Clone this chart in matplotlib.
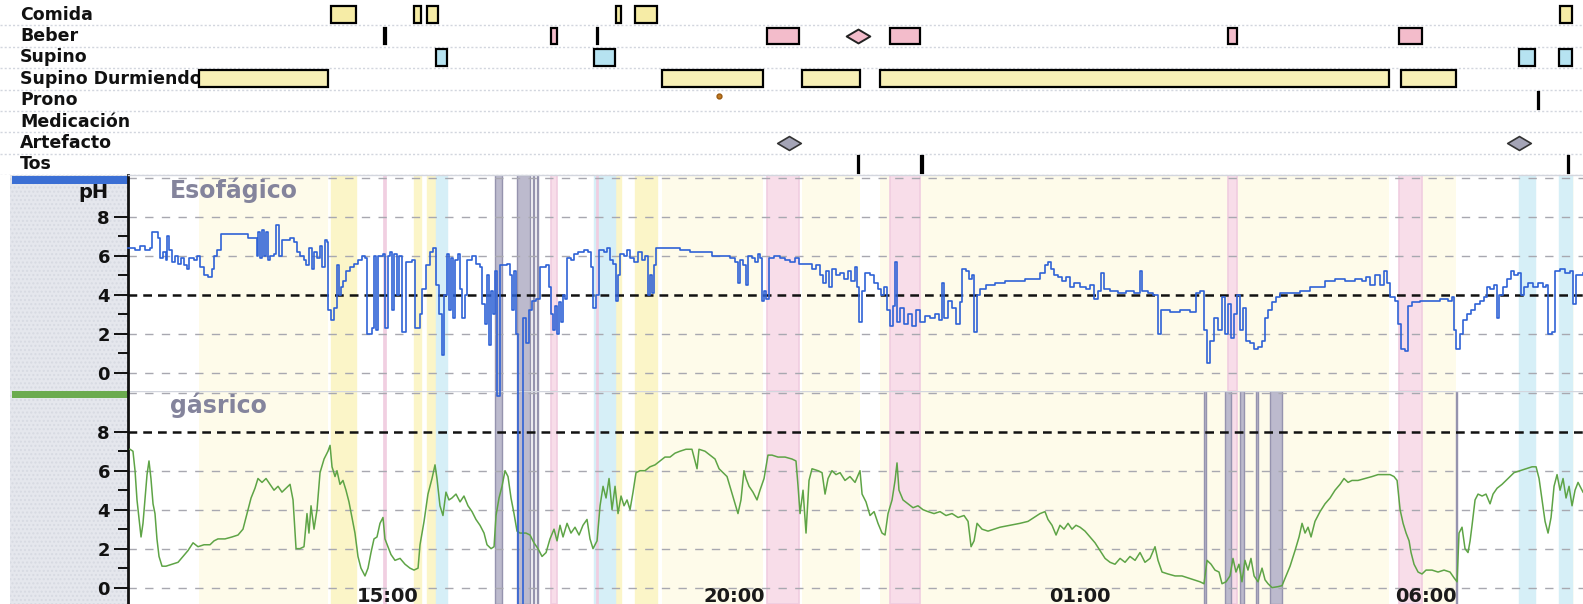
import matplotlib
matplotlib.use("Agg")
import matplotlib.pyplot as plt
from matplotlib.patches import Rectangle
from matplotlib.path import Path

plt.rcParams['font.family'] = ['DejaVu Sans']
plt.rcParams['font.weight'] = 'bold'

# ---------------------------------------------------------------- data
row_labels = ["Comida", "Beber", "Supino", "Supino Durmiendo",
              "Prono", "Medicación", "Artefacto", "Tos"]

comida_start = ["14:11", "15:23", "15:34", "18:18", "18:34", "07:56"]
comida_end   = ["14:32", "15:29", "15:43", "18:22", "18:53", "08:07"]

beber_start = ["14:57", "17:21", "18:01", "20:29", "22:15", "03:08", "05:37"]
beber_end   = ["14:58", "17:27", "18:02", "20:56", "22:41", "03:16", "05:57"]
beber_marks = ["21:48"]

supino_start = ["15:42", "17:59", "07:21", "07:55"]
supino_end   = ["15:51", "18:17", "07:35", "08:07"]

dormido_start = ["12:16", "18:58", "20:59", "22:07", "05:38"]
dormido_end   = ["14:08", "20:25", "21:49", "05:28", "06:26"]

prono_start = ["07:37"]
prono_end   = ["07:38"]
prono_marks = ["19:47"]

artefacto_marks = ["20:48", "07:21"]

tos_start = ["21:48", "22:42", "08:03"]
tos_end   = ["21:48", "22:44", "08:04"]

# periods excluded from analysis
excl_both_start = ["16:33", "16:52", "17:06", "17:09"]
excl_both_end   = ["16:39", "17:03", "17:07", "17:10"]
excl_gast_start = ["02:48", "03:06", "03:19", "03:33", "03:45", "06:26"]
excl_gast_end   = ["02:49", "03:11", "03:22", "03:34", "03:55", "06:27"]

time_ticks = ["15:00", "20:00", "01:00", "06:00"]

# pH traces: minutes after 11:00, pH
esof_min = [
    14.6, 20.7, 25.0, 29.3, 33.7, 35.4, 40.6, 42.3, 44.9, 47.5, 48.4, 50.1, 52.8, 55.4, 58.0, 60.6,
    63.2, 65.8, 67.5, 71.8, 74.4, 77.0, 80.5, 84.0, 87.4, 89.2, 91.8, 95.2, 116.9, 118.7, 123.9, 126.5,
    127.3, 129.1, 130.8, 132.5, 134.3, 136.0, 137.7, 141.2, 142.9, 145.5, 148.1, 155.1, 158.5, 161.1,
    163.7, 167.2, 168.9, 171.5, 174.1, 175.9, 178.5, 181.1, 182.8, 185.4, 187.2, 188.0, 190.6, 193.2,
    195.8, 197.6, 199.3, 201.0, 203.6, 207.1, 210.6, 214.0, 217.5, 220.1, 221.8, 226.2, 227.9, 229.6,
    231.4, 235.7, 237.4, 240.0, 241.8, 243.5, 245.2, 247.8, 249.6, 252.2, 255.7, 260.9, 263.5, 267.8,
    269.5, 273.0, 276.5, 279.1, 281.7, 284.3, 286.9, 288.6, 291.2, 292.9, 294.7, 296.4, 298.1, 300.7,
    302.5, 304.2, 306.8, 308.5, 312.9, 316.3, 319.8, 321.6, 324.2, 325.9, 327.6, 329.4, 331.1, 332.8,
    334.6, 337.2, 343.2, 345.8, 347.6, 349.3, 351.0, 352.8, 357.1, 359.7, 362.3, 364.9, 368.4, 371.8,
    377.1, 379.7, 381.4, 383.1, 384.9, 386.6, 388.3, 390.1, 391.8, 393.5, 395.3, 398.7, 401.3, 404.8,
    410.0, 413.5, 416.1, 417.8, 420.4, 423.0, 427.3, 429.9, 432.5, 435.1, 437.7, 439.5, 441.2, 444.7,
    447.3, 449.9, 453.4, 456.8, 460.3, 462.9, 465.5, 467.2, 469.0, 470.7, 472.4, 475.9, 493.2, 501.9,
    510.6, 521.0, 527.9, 536.6, 540.9, 543.5, 545.3, 547.9, 550.5, 552.2, 555.7, 558.3, 560.9, 562.6,
    564.3, 566.1, 567.8, 570.4, 574.8, 580.0, 584.3, 588.6, 593.0, 596.4, 599.0, 604.2, 607.7, 611.2,
    614.6, 617.2, 619.8, 622.4, 625.0, 628.5, 632.0, 635.4, 638.9, 641.5, 645.0, 646.7, 648.5, 651.1,
    653.7, 658.0, 661.5, 664.9, 667.5, 670.1, 672.7, 675.3, 677.9, 679.7, 681.4, 684.0, 687.5, 690.9,
    694.4, 697.9, 701.3, 705.7, 710.0, 714.3, 717.8, 720.4, 722.2, 725.6, 729.1, 732.6, 736.0, 737.8,
    741.2, 743.8, 746.4, 748.2, 750.8, 753.4, 758.6, 766.4, 775.1, 783.7, 792.4, 801.1, 805.4, 809.7,
    812.3, 814.9, 817.5, 821.0, 824.5, 827.9, 831.4, 834.9, 840.1, 845.3, 848.8, 852.2, 855.7, 858.3,
    860.9, 866.1, 873.0, 880.0, 886.9, 892.1, 893.8, 899.0, 903.4, 907.7, 910.3, 918.1, 926.8, 935.5,
    940.7, 944.1, 947.6, 950.2, 952.8, 956.3, 959.7, 963.2, 965.8, 968.4, 971.0, 973.6, 976.2, 978.8,
    981.4, 984.0, 987.5, 991.0, 994.4, 997.9, 1000.5, 1003.1, 1006.6, 1010.0, 1013.5, 1022.2, 1030.8,
    1039.5, 1048.2, 1052.5, 1061.2, 1069.9, 1078.5, 1084.6, 1088.1, 1091.5, 1095.9, 1100.2, 1103.7,
    1106.3, 1108.9, 1113.2, 1115.8, 1118.4, 1121.9, 1124.5, 1128.0, 1134.9, 1143.6, 1152.2, 1159.2,
    1162.6, 1164.4, 1166.1, 1169.6, 1172.2, 1175.6, 1179.1, 1182.6, 1186.9, 1190.4, 1193.0, 1195.6,
    1199.1, 1201.7, 1203.4, 1206.9, 1210.3, 1213.8, 1216.4, 1219.9, 1222.5, 1225.1, 1228.5, 1232.9,
    1237.2, 1241.5, 1244.1, 1245.9, 1249.3, 1252.0, 1256.3, 1260.6, 1265.0, 1267.6, 1270.2, 1276.2]
esof_ph = [
    6.4, 6.3, 6.5, 6.3, 6.4, 7.2, 6.9, 5.9, 6.2, 5.8, 7.0, 6.3, 5.7, 6.0, 5.6, 5.9,
    5.5, 5.3, 5.9, 5.8, 6.0, 5.4, 5.0, 4.9, 5.3, 6.0, 6.3, 7.1, 7.1, 6.9, 6.9, 6.0,
    7.2, 5.9, 7.3, 6.0, 7.2, 5.8, 6.0, 6.1, 7.6, 6.0, 6.8, 6.9, 6.7, 6.2,
    6.0, 5.8, 5.5, 6.4, 5.3, 6.2, 5.9, 6.5, 5.4, 6.8, 6.7, 3.2, 2.7, 3.3,
    5.5, 4.0, 4.4, 4.7, 5.2, 5.4, 5.6, 5.8, 6.0, 5.9, 2.0, 2.3, 6.0, 2.2,
    6.0, 6.1, 2.3, 6.0, 6.2, 3.2, 6.1, 4.0, 6.0, 2.1, 5.7, 5.8, 2.3, 3.0,
    4.3, 5.5, 6.2, 6.4, 4.5, 3.0, 0.9, 4.0, 6.1, 3.2, 5.9, 2.8, 5.8, 6.1,
    4.3, 2.8, 4.0, 5.8, 6.0, 5.6, 5.4, 3.5, 2.5, 5.0, 1.4, 4.2, 3.0, 5.2,
    -1.2, 5.5, 5.6, 5.0, 3.2, 5.2, 2.0, -12.0, 2.8, 1.5, 3.2, 3.7, 3.8, 5.4,
    5.5, 4.4, 3.0, 2.2, 3.4, 2.0, 3.6, 2.6, 4.0, 3.8, 5.9, 5.8, 6.1, 6.2,
    6.3, 6.2, 5.4, 3.3, 4.0, 6.3, 6.2, 6.4, 5.8, 5.6, 3.7, 5.0, 6.1, 6.0,
    6.3, 5.9, 5.7, 6.2, 5.8, 6.0, 4.0, 5.0, 4.1, 5.5, 6.4, 6.4, 6.3, 6.2,
    6.2, 6.0, 6.0, 5.9, 5.7, 4.6, 5.8, 5.5, 4.5, 6.0, 5.9, 5.7, 6.1, 5.9,
    3.7, 4.2, 3.8, 5.9, 6.0, 5.9, 5.8, 5.7, 5.9, 5.6, 5.6, 5.6, 5.3, 5.5,
    5.0, 4.6, 5.2, 4.4, 5.3, 5.0, 5.1, 4.8, 5.2, 4.7, 5.4, 4.4, 2.6, 4.2,
    5.1, 5.0, 4.6, 4.3, 4.0, 4.4, 3.2, 2.4, 3.4, 5.7, 2.6, 3.3, 2.5, 3.0,
    2.4, 3.2, 2.6, 2.9, 2.8, 3.0, 2.7, 4.6, 2.8, 3.7, 3.3, 2.5, 3.6, 5.3,
    5.2, 4.8, 5.0, 2.1, 4.0, 4.3, 4.5, 4.6, 4.7, 4.7, 4.8, 4.8, 5.1, 5.5,
    5.7, 5.3, 5.0, 4.9, 4.7, 4.9, 4.4, 4.6, 4.4, 4.3, 4.5, 3.8, 4.2, 5.1,
    4.3, 4.2, 4.1, 4.2, 4.1, 5.2, 4.2, 4.1, 4.0, 2.0, 3.2, 3.1, 3.2, 3.1,
    4.1, 4.2, 2.2, 0.5, 1.6, 2.8, 2.2, 3.9, 2.0, 3.5, 1.8, 3.0, 4.0, 2.2,
    3.3, 1.6, 1.5, 1.2, 1.3, 1.6, 2.8, 3.2, 3.6, 3.9, 4.1, 4.1, 4.2,
    4.4, 4.4, 4.7, 4.8, 4.7, 4.8, 4.7, 4.9, 4.5, 5.0, 4.5, 5.2,
    4.6, 3.9, 3.7, 2.5, 1.2, 1.1, 3.4, 3.6, 3.7, 3.7, 3.8, 3.7,
    3.9, 2.2, 1.2, 2.0, 2.7, 3.0, 3.2, 3.5, 3.7, 3.9, 4.4, 4.3,
    4.5, 2.8, 4.0, 4.4, 4.8, 5.2, 5.0, 5.1, 4.0, 4.4, 4.6, 4.4,
    4.6, 4.4, 4.5, 2.0, 2.1, 5.2, 5.3, 5.1, 5.2, 3.5, 5.0, 5.1]

gast_min = [
    16.3, 18.9, 20.7, 22.4, 24.1, 25.9, 27.6, 29.3, 31.1, 32.8, 34.5, 36.3, 38.0, 39.7, 41.5, 44.1,
    47.5, 52.8, 58.0, 62.3, 66.6, 71.0, 75.3, 80.5, 85.7, 89.2, 92.6, 98.7, 104.8, 110.0, 114.3, 117.8,
    121.3, 124.7, 127.3, 130.8, 134.3, 137.7, 141.2, 144.7, 148.1, 151.6, 155.1, 157.7, 160.3, 163.7,
    167.2, 169.8, 171.5, 173.3, 175.9, 178.5, 181.1, 184.6, 188.0, 189.8, 191.5, 194.1, 195.8, 198.4,
    201.0, 203.6, 206.2, 208.8, 211.4, 214.0, 216.6, 220.1, 222.7, 225.3, 227.9, 230.5, 233.1, 235.7,
    237.4, 240.0, 242.6, 246.1, 250.5, 254.8, 259.1, 262.6, 266.1, 267.8, 271.3, 274.7, 278.2, 280.8,
    282.5, 285.1, 287.7, 290.3, 292.9, 295.5, 299.0, 302.5, 305.9, 309.4, 312.9, 316.3, 319.8, 323.3,
    325.9, 329.4, 332.0, 333.7, 336.3, 338.9, 341.5, 344.1, 346.7, 349.3, 351.9, 354.5, 359.7, 363.2,
    366.6, 370.1, 373.6, 377.1, 380.5, 384.0, 386.6, 389.2, 391.8, 395.3, 398.7, 402.2, 405.7, 409.1,
    412.6, 415.2, 417.8, 421.3, 423.9, 426.5, 429.1, 431.7, 434.3, 436.9, 439.5, 442.1, 444.7, 447.3,
    449.9, 452.5, 455.1, 458.6, 462.9, 467.2, 471.6, 475.9, 480.2, 484.6, 488.9, 493.2, 498.4, 503.6,
    508.0, 509.7, 514.9, 519.3, 523.6, 527.1, 530.5, 534.0, 537.5, 540.9, 543.5, 546.1, 548.7, 550.5,
    553.1, 556.5, 560.0, 562.6, 566.1, 569.5, 573.0, 578.2, 584.3, 590.3, 593.8, 595.6, 597.3, 599.9,
    602.5, 605.1, 607.7, 612.9, 616.4, 619.0, 621.6, 625.0, 628.5, 632.0, 636.3, 640.6, 645.0, 649.3,
    651.1, 654.5, 658.0, 661.5, 664.9, 668.4, 671.0, 673.6, 677.1, 679.7, 681.4, 683.1, 686.6, 690.9,
    695.3, 699.6, 703.9, 708.3, 713.5, 718.7, 723.9, 729.1, 734.3, 739.5, 743.0, 745.6, 748.2, 750.8,
    755.1, 760.3, 765.5, 770.7, 779.4, 788.1, 795.0, 800.2, 805.4, 809.7, 812.3, 815.8, 819.3, 822.7,
    826.2, 829.7, 833.1, 836.6, 840.1, 844.4, 848.8, 853.1, 857.4, 861.8, 866.1, 870.4, 874.8, 879.1,
    883.4, 887.8, 892.1, 896.4, 900.8, 905.1, 907.7, 911.2, 916.4, 922.5, 928.5, 933.7, 938.9, 944.1,
    947.6, 950.2, 953.7, 957.1, 960.6, 963.2, 966.7, 970.1, 972.7, 975.3, 977.9, 980.5, 983.1, 985.7,
    988.3, 991.0, 994.4, 997.9, 1000.5, 1003.1, 1006.6, 1011.7, 1015.2, 1018.7, 1022.2, 1026.5, 1030.0,
    1032.6, 1035.2, 1037.8, 1040.4, 1043.8, 1048.2, 1052.5, 1056.9, 1061.2, 1065.5, 1069.0, 1072.5,
    1075.9, 1081.1, 1087.2, 1093.3, 1098.5, 1103.7, 1108.9, 1112.3, 1115.0, 1117.6, 1120.2, 1122.8,
    1125.4, 1127.1, 1129.7, 1133.2, 1136.6, 1140.1, 1145.3, 1150.5, 1155.7, 1160.9, 1164.4, 1167.0,
    1168.7, 1171.3, 1173.9, 1176.5, 1178.3, 1180.0, 1182.6, 1185.2, 1188.7, 1192.1, 1195.6, 1198.2,
    1201.7, 1206.0, 1211.2, 1216.4, 1221.6, 1226.8, 1232.0, 1235.5, 1238.1, 1240.7, 1243.3, 1245.9,
    1248.5, 1251.1, 1253.7, 1256.3, 1258.9, 1261.5, 1264.1, 1266.7, 1269.3, 1271.9, 1276.2]
gast_ph = [
    7.1, 7.0, 6.0, 4.5, 3.6, 2.6, 3.3, 4.5, 5.8, 6.5, 5.6, 4.3, 3.8, 2.5, 1.6, 1.1,
    1.1, 1.2, 1.3, 1.6, 1.9, 2.3, 2.1, 2.2, 2.2, 2.4, 2.5, 2.5, 2.6, 2.7, 3.0, 3.8,
    4.6, 5.1, 5.6, 5.4, 5.6, 5.3, 5.0, 5.2, 4.9, 5.1, 5.3, 4.5, 2.0, 2.0,
    2.1, 3.8, 2.8, 4.2, 3.0, 4.0, 5.9, 6.6, 7.0, 7.3, 6.2, 5.7, 6.0, 5.3,
    5.5, 5.0, 4.4, 3.6, 2.8, 1.6, 1.0, 0.6, 1.0, 1.8, 2.5, 2.6, 3.3, 3.6,
    2.5, 2.1, 1.7, 1.4, 1.5, 1.2, 1.0, 0.9, 1.0, 2.2, 3.4, 4.8, 5.6, 6.3,
    5.6, 4.2, 3.7, 4.9, 4.5, 4.6, 4.8, 4.4, 4.7, 4.2, 3.9, 3.5, 3.2, 2.8,
    2.2, 2.0, 2.1, 3.7, 4.6, 5.2, 6.0, 5.7, 4.6, 3.8, 2.9, 2.8, 2.8, 2.7,
    2.3, 2.0, 1.6, 1.8, 2.5, 3.0, 2.4, 3.2, 2.6, 3.3, 2.8, 3.1, 2.7, 3.2,
    3.5, 2.5, 2.0, 2.4, 4.2, 5.2, 4.6, 5.6, 4.0, 5.2, 3.8, 4.7, 4.2, 4.5,
    4.0, 4.9, 5.9, 6.0, 6.0, 6.2, 6.3, 6.5, 6.7, 6.7, 6.9, 7.0, 7.1, 7.1,
    6.1, 7.1, 7.0, 6.8, 6.6, 6.1, 5.9, 5.7, 5.0, 4.3, 3.8, 4.5, 6.0, 5.6,
    5.2, 4.9, 4.5, 5.0, 5.6, 6.8, 6.8, 6.7, 6.7, 6.6, 6.5, 5.2, 3.8, 5.0,
    2.8, 5.5, 6.1, 6.0, 5.9, 4.8, 5.6, 6.0, 5.8, 5.9, 5.5, 5.7, 5.4, 6.0,
    4.8, 4.4, 3.7, 3.9, 3.3, 2.8, 2.7, 3.8, 4.5, 5.5, 6.4, 5.0, 4.5, 4.3,
    4.1, 4.2, 4.0, 3.9, 3.8, 3.9, 3.7, 3.8, 3.6, 3.7, 3.4, 2.1, 2.4, 3.3,
    3.0, 2.9, 3.0, 3.1, 3.2, 3.3, 3.4, 3.6, 3.8, 3.9, 3.5, 3.2, 2.7, 3.2,
    3.0, 3.3, 3.0, 3.2, 3.1, 2.9, 2.6, 2.3, 1.9, 1.5, 1.3, 1.2, 1.5, 1.3,
    1.6, 1.4, 1.8, 1.3, 1.5, 2.1, 1.4, 0.8, 0.7, 0.6, 0.6, 0.5, 0.4, 0.3,
    0.2, 1.4, 1.2, 0.9, 0.8, 0.2, 0.3, 0.6, 1.5, 0.8, 1.2, 0.3, 1.4, 0.9,
    1.5, 0.6, 0.3, 1.0, 0.4, 0.2, 0.0, 0.05, 0.1, 0.6, 1.1, 1.9, 2.6,
    3.3, 2.8, 3.1, 2.6, 3.4, 3.9, 4.3, 4.6, 5.0, 5.3, 5.6, 5.4,
    5.5, 5.5, 5.6, 5.7, 5.8, 5.8, 5.8, 5.7, 5.5, 4.0, 3.3, 2.8,
    2.4, 1.8, 1.2, 0.8, 0.7, 0.9, 0.9, 0.8, 0.9, 0.8, 0.5, 0.3,
    2.8, 3.1, 2.0, 1.8, 2.4, 3.2, 4.5, 4.8, 4.7, 4.8, 4.3, 4.8,
    5.1, 5.3, 5.6, 5.9, 6.0, 6.1, 6.2, 6.2, 5.6, 4.5, 3.4, 2.8,
    3.6, 5.2, 5.8, 5.0, 5.6, 4.6, 5.2, 4.2, 5.0, 5.4, 4.9]


def clock(s):
    """Minutes after 11:00 of the first day (times before 11:00 are next day)."""
    h, m = map(int, s.split(":"))
    if h < 11:
        h += 24
    return (h - 11) * 60 + m


# ---------------------------------------------------------------- layout
W, H = 1583, 604
fig = plt.figure(figsize=(W / 100, H / 100), dpi=100)
fig.patch.set_facecolor("white")


def box(x0, y0, x1, y1):
    """Pixel box measured from the top-left corner -> figure fraction rect."""
    return [x0 / W, 1 - y1 / H, (x1 - x0) / W, (y1 - y0) / H]


T_START, T_END = 14.6, 1276.2          # visible recording window (min after 11:00)
PX_PER_MIN = (W - 128) / (T_END - T_START)

ax_ev = fig.add_axes(box(0, 4, W, 175))
ax1 = fig.add_axes(box(128, 175, W, 391))
ax2 = fig.add_axes(box(128, 391, W, 604))
ax1.set_zorder(3)
ax2.set_zorder(2)
ax_ev.set_zorder(1)

ax_ev.set_xlim(T_START - 128 / PX_PER_MIN, T_END)
ax_ev.set_ylim(len(row_labels), 0)
ax_ev.axis("off")

# colours
C_COMIDA, C_BEBER, C_SUPINO, C_DORM = "#f6eca6", "#f3bccb", "#b6e3f1", "#f8f0b6"
B_COMIDA, B_BEBER, B_SUPINO, B_DORM = "#fbf5c8", "#f8dde9", "#d6eff7", "#fefbea"
C_EXCL, C_EXCL_EDGE = "#bcbacd", "#9593ae"

# ---------------------------------------------------------------- event rows
for i, lab in enumerate(row_labels):
    ax_ev.text(0.0126, i + 0.5, lab, transform=ax_ev.get_yaxis_transform(),
               ha="left", va="center", fontsize=12.5, color="#111111", zorder=2)
    ax_ev.axhline(i + 1, color="#d2d6de", lw=1.0, ls=(0, (1.5, 1.5)), zorder=1)


def draw_row(row, starts, ends, face):
    for s, e in zip(starts, ends):
        a, b = clock(s), clock(e)
        ax_ev.add_patch(Rectangle((a, row + 0.5 - 0.39), max(b - a, 0.3), 0.78,
                                  facecolor=face, edgecolor="black", lw=1.6, zorder=3))


draw_row(0, comida_start, comida_end, C_COMIDA)
draw_row(1, beber_start, beber_end, C_BEBER)
draw_row(2, supino_start, supino_end, C_SUPINO)
draw_row(3, dormido_start, dormido_end, C_DORM)
draw_row(4, prono_start, prono_end, "black")
draw_row(7, tos_start, tos_end, "black")

diamond = Path([(-1.7, 0), (0, 1), (1.7, 0), (0, -1), (-1.7, 0)],
               [Path.MOVETO, Path.LINETO, Path.LINETO, Path.LINETO, Path.CLOSEPOLY])
ax_ev.plot([clock(t) for t in beber_marks], [1.5] * len(beber_marks), ls="none",
           marker=diamond, ms=17, mfc=C_BEBER, mec="#222222", mew=1.4, zorder=4)
ax_ev.plot([clock(t) for t in artefacto_marks], [6.5] * len(artefacto_marks), ls="none",
           marker=diamond, ms=17, mfc="#a4a4b6", mec="#333333", mew=1.2, zorder=4)
ax_ev.plot([clock(t) for t in prono_marks], [4.3] * len(prono_marks), ls="none",
           marker="o", ms=3.5, mfc="#c27a22", mec="#9a5a10", zorder=4)

# ---------------------------------------------------------------- left panel
fig.patches.append(Rectangle((10 / W, 0), 118 / W, (H - 175) / H, transform=fig.transFigure,
                             facecolor="#e5e7ed", edgecolor="#d7dae2", hatch="....",
                             lw=0, zorder=0.5))
fig.patches.append(Rectangle((12 / W, 1 - 184 / H), 116 / W, 8 / H, transform=fig.transFigure,
                             facecolor="#3b6fd4", lw=0, zorder=0.6))
fig.patches.append(Rectangle((12 / W, 1 - 398 / H), 116 / W, 7 / H, transform=fig.transFigure,
                             facecolor="#6bab4f", lw=0, zorder=0.6))
fig.text(108 / W, 1 - 193 / H, "pH", ha="right", va="center", fontsize=14, color="#111111")

# ---------------------------------------------------------------- pH panels
ax1.set_ylim(-0.94, 10.14)
ax2.set_ylim(-0.84, 10.09)

for ax, thr in ((ax1, 4), (ax2, 8)):
    ax.set_xlim(T_START, T_END)
    ax.set_facecolor("white")

    # activity / position shading
    for s, e in zip(dormido_start, dormido_end):
        ax.axvspan(clock(s), clock(e), color=B_DORM, lw=0, zorder=0)
    for s, e in zip(comida_start, comida_end):
        ax.axvspan(clock(s), clock(e), facecolor=B_COMIDA, edgecolor=B_COMIDA, lw=1, zorder=0.2)
    for s, e in zip(supino_start, supino_end):
        ax.axvspan(clock(s), clock(e), facecolor=B_SUPINO, edgecolor=B_SUPINO, lw=1, zorder=0.3)
    for s, e in zip(beber_start, beber_end):
        ax.axvspan(clock(s), clock(e), facecolor=B_BEBER, edgecolor="#f0cde0", lw=1.2, zorder=0.4)

    # exclusion periods
    for s, e in zip(excl_both_start, excl_both_end):
        ax.axvspan(clock(s), clock(e), facecolor=C_EXCL, edgecolor=C_EXCL_EDGE, lw=1, zorder=0.6)

    # reference lines
    for v in (0, 2, 4, 6, 8, 10):
        if v == thr:
            ax.axhline(v, color="#111111", lw=1.8, ls=(0, (3.5, 2.4)), zorder=1.5)
        else:
            ax.axhline(v, color="#a8a8b0", lw=1.0, ls=(0, (6, 6)), zorder=0.8)

    ax.set_yticks([0, 2, 4, 6, 8])
    ax.set_yticks([1, 3, 5, 7], minor=True)
    ax.tick_params(axis="y", which="major", length=10, width=1.4, pad=3,
                   labelsize=13, colors="#111111")
    ax.tick_params(axis="y", which="minor", length=7, width=1.4, colors="#111111")
    for side in ("right", "bottom"):
        ax.spines[side].set_visible(False)
    ax.spines["top"].set_color("#d3d6de")
    ax.spines["top"].set_linewidth(1.0)
    ax.spines["left"].set_color("#111111")
    ax.spines["left"].set_linewidth(2.0)

for s, e in zip(excl_gast_start, excl_gast_end):
    ax2.axvspan(clock(s), clock(e), facecolor=C_EXCL, edgecolor=C_EXCL_EDGE, lw=1, zorder=0.6)

ax1.set_xticks([])
ax2.set_xticks([clock(t) for t in time_ticks])
ax2.set_xticklabels(time_ticks)
ax2.tick_params(axis="x", direction="in", length=0, pad=-12, labelsize=14, colors="#1a1a1a")

ax1.text(0.029, 0.93, "Esofágico", transform=ax1.transAxes, ha="left", va="center",
         fontsize=17, color="#84849c", zorder=5)
ax2.text(0.029, 0.934, "gásrico", transform=ax2.transAxes, ha="left", va="center",
         fontsize=17, color="#84849c", zorder=5)

# traces
ax2.plot(gast_min, gast_ph, color="#5ea446", lw=1.1, zorder=3)
esof_line, = ax1.plot(esof_min, esof_ph, color="#2f62d6", lw=1.2, drawstyle="steps-post",
                      zorder=3, clip_on=False)
# the oesophageal channel may run off the bottom of its own panel
clip_box = Rectangle((128 / W, 0), (W - 128) / W, (H - 175) / H, transform=fig.transFigure)
esof_line.set_clip_path(clip_box)

fig.savefig("out.png", dpi=100, facecolor="white")
